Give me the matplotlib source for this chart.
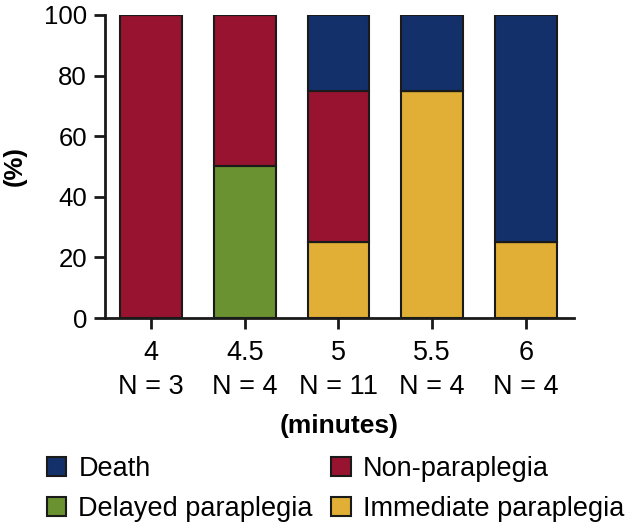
import matplotlib.pyplot as plt
import numpy as np
from matplotlib.patches import Patch

plt.rcParams['font.family'] = ['Liberation Sans', 'DejaVu Sans']

# Data (percent of animals per occlusion time)
minutes = ['4', '4.5', '5', '5.5', '6']
counts = [3, 4, 11, 4, 4]
immediate = [0, 0, 25, 75, 25]
delayed = [0, 50, 0, 0, 0]
non_para = [100, 50, 50, 0, 0]
death = [0, 0, 25, 25, 75]

colors = {
    'Death': '#13306a',
    'Non-paraplegia': '#98132f',
    'Delayed paraplegia': '#6b9231',
    'Immediate paraplegia': '#e1af36',
}

fig = plt.figure(figsize=(6.31, 5.22), dpi=100)
ax = fig.add_axes([0.1664, 0.3908, 0.743, 0.5805])

x = np.arange(len(minutes))
w = 0.66
bottom = np.zeros(len(minutes))
for name, vals in [('Immediate paraplegia', immediate),
                   ('Delayed paraplegia', delayed),
                   ('Non-paraplegia', non_para),
                   ('Death', death)]:
    vals = np.array(vals, dtype=float)
    ax.bar(x, vals, w, bottom=bottom, color=colors[name],
           edgecolor='#1a1a1a', linewidth=1.5)
    bottom += vals

# Axes styling
ax.set_xlim(-0.49, len(minutes) - 0.49)
ax.set_ylim(0, 100)
ax.set_yticks(range(0, 101, 20))
ax.set_xticks(x)
ax.set_xticklabels([f'{m}\nN = {n}' for m, n in zip(minutes, counts)],
                   fontsize=19.5, linespacing=1.38)
ax.tick_params(axis='y', labelsize=18.5, pad=5)
ax.tick_params(axis='x', pad=8)
ax.tick_params(width=2, length=8, color='#1a1a1a')
for side in ['top', 'right']:
    ax.spines[side].set_visible(False)
for side in ['left', 'bottom']:
    ax.spines[side].set_linewidth(2)
    ax.spines[side].set_color('#1a1a1a')

ax.set_xlabel('(minutes)', fontsize=19, fontweight='bold', labelpad=10)
ax.set_ylabel('(%)', fontsize=18.5, fontweight='bold', labelpad=12)

# Legend (column-wise fill -> row order Death, Non-paraplegia / Delayed, Immediate)
order = ['Death', 'Delayed paraplegia', 'Non-paraplegia', 'Immediate paraplegia']
handles = [Patch(facecolor=colors[k], edgecolor='#1a1a1a', linewidth=1.5, label=k)
           for k in order]
fig.legend(handles=handles, ncol=2, loc='lower left',
           bbox_to_anchor=(0.044, -0.036), frameon=False, fontsize=19.5,
           handlelength=0.72, handleheight=0.72, handletextpad=0.45,
           columnspacing=0.68, labelspacing=0.5, borderpad=0.2)

fig.savefig('out.png', dpi=100)
